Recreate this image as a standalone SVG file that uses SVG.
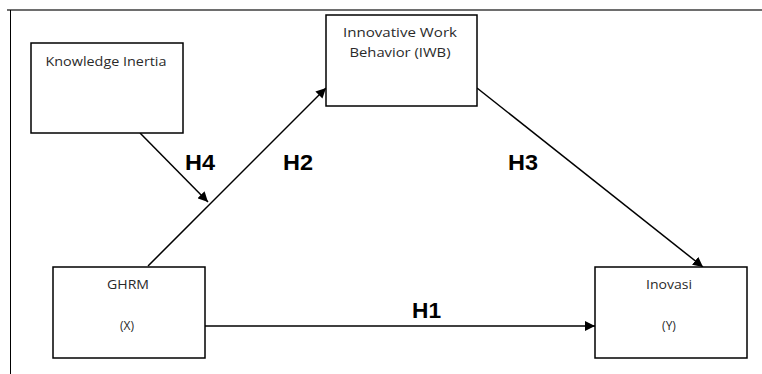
<svg xmlns="http://www.w3.org/2000/svg" width="762" height="374" viewBox="0 0 762 374">
<style>
.box{fill:#fff;stroke:#000;stroke-width:1.5}
.t{font-family:"Open Sans","Liberation Sans",sans-serif;font-size:12px;fill:#2a2a2a;text-anchor:middle}
.h{font-family:"Liberation Sans",Arial,sans-serif;font-size:22px;font-weight:bold;fill:#000}
.c{stroke:#000;stroke-width:1.5;fill:none}
</style>
<defs>
<marker id="ah" viewBox="0 0 10 10" refX="10" refY="5" markerWidth="10" markerHeight="10" markerUnits="userSpaceOnUse" orient="auto">
<path d="M0,0 L10,5 L0,10 z" fill="#000"/>
</marker>
</defs>
<rect x="0" y="0" width="762" height="374" fill="#fff"/>
<line x1="7" y1="10" x2="762" y2="10" stroke="#6e6e6e" stroke-width="2"/>
<line x1="10.5" y1="10" x2="10.5" y2="374" stroke="#000" stroke-width="1"/>
<g id="connectors">
<line class="c" x1="205" y1="326" x2="595" y2="326" marker-end="url(#ah)"/>
<line class="c" x1="148" y1="266" x2="326" y2="88" marker-end="url(#ah)"/>
<line class="c" x1="477" y1="88" x2="703" y2="267" marker-end="url(#ah)"/>
<line class="c" x1="140" y1="133" x2="208" y2="202" marker-end="url(#ah)"/>
</g>
<g id="knowledge-inertia">
<rect class="box" x="31" y="43" width="152" height="90"/>
<text class="t" x="106" y="66" textLength="121" lengthAdjust="spacingAndGlyphs">Knowledge Inertia</text>
</g>
<g id="iwb">
<rect class="box" x="326" y="15" width="151" height="91"/>
<text class="t" x="400" y="37" textLength="114" lengthAdjust="spacingAndGlyphs">Innovative Work</text>
<text class="t" x="400" y="57" textLength="101" lengthAdjust="spacingAndGlyphs">Behavior (IWB)</text>
</g>
<g id="ghrm">
<rect class="box" x="53" y="267" width="152" height="91"/>
<text class="t" x="128" y="289" textLength="42" lengthAdjust="spacingAndGlyphs">GHRM</text>
<text class="t" x="127" y="330">(X)</text>
</g>
<g id="inovasi">
<rect class="box" x="595" y="267" width="152" height="91"/>
<text class="t" x="669" y="289" textLength="46" lengthAdjust="spacingAndGlyphs">Inovasi</text>
<text class="t" x="669" y="330">(Y)</text>
</g>
<g id="labels">
<text class="h" x="185" y="170" textLength="30" lengthAdjust="spacingAndGlyphs">H4</text>
<text class="h" x="283" y="170" textLength="30" lengthAdjust="spacingAndGlyphs">H2</text>
<text class="h" x="508" y="170" textLength="30" lengthAdjust="spacingAndGlyphs">H3</text>
<text class="h" x="412" y="318" textLength="29" lengthAdjust="spacingAndGlyphs">H1</text>
</g>
</svg>
